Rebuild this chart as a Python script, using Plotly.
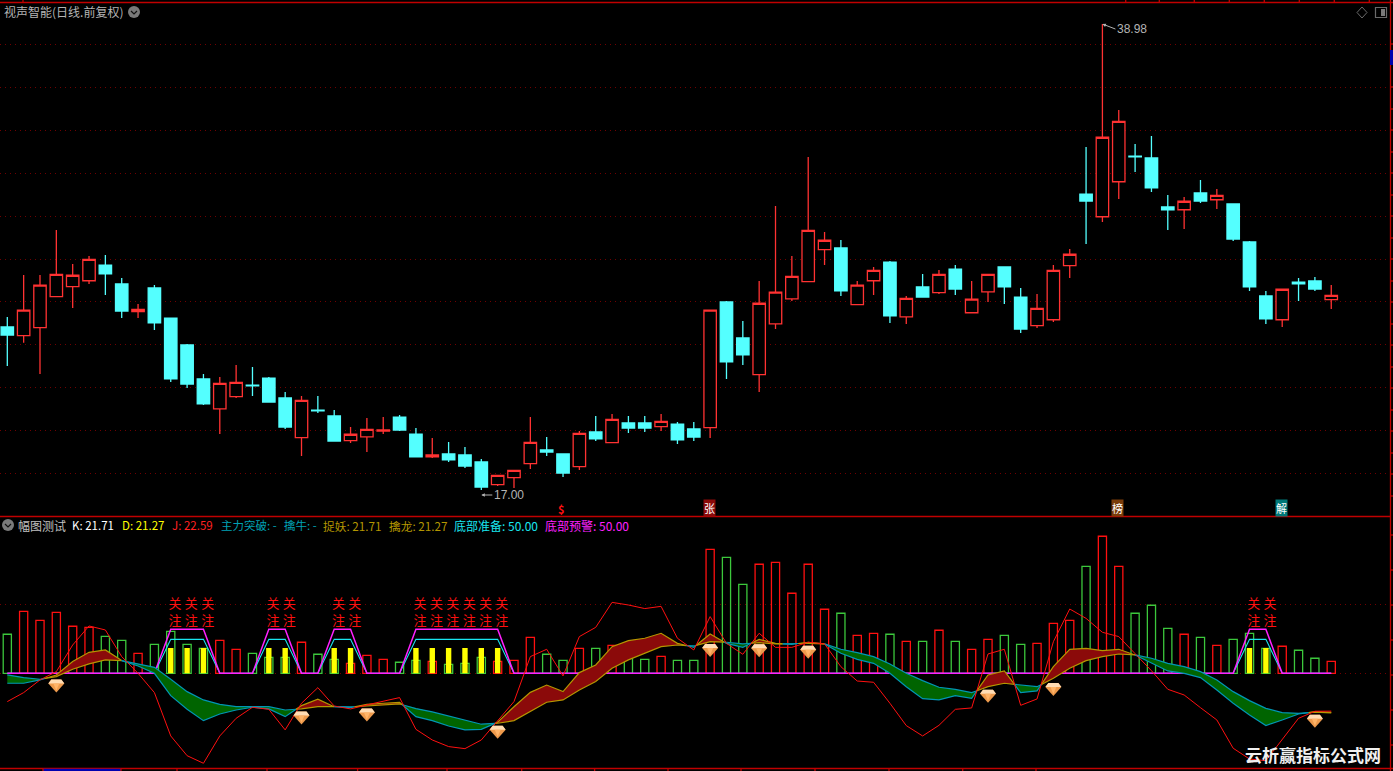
import plotly.graph_objects as go

W, H = 1393, 771

# ---------- price panel ----------
highs = [25.16,27.14,27.14,29.26,27.66,28.04,28.08,27.00,25.77,26.67,
         25.11,23.89,22.47,22.33,22.90,22.80,22.33,21.62,21.43,21.43,
         20.77,19.97,20.40,20.44,20.54,19.92,19.45,19.26,19.03,18.46,
         17.69,17.93,20.44,19.50,18.70,19.78,20.49,20.58,20.49,20.49,
         20.58,20.21,20.21,25.48,25.92,24.97,26.86,30.40,28.04,32.71,
         29.17,28.79,26.86,27.52,27.80,26.15,27.19,27.38,27.61,26.86,
         27.17,27.52,26.53,26.25,27.61,28.37,33.18,38.98,34.92,33.32,
         33.70,30.92,30.82,31.62,31.20,30.49,28.75,26.39,26.47,27.00,
         27.05,26.67]
opens = [24.69,24.28,24.66,26.12,26.59,26.87,27.61,26.72,25.41,26.53,
         25.11,23.84,22.24,20.83,21.40,21.95,22.28,21.34,19.47,20.77,
         20.49,19.33,19.51,19.78,20.44,19.64,18.56,18.70,18.65,18.32,
         17.25,17.58,18.24,18.89,18.70,18.10,19.74,19.23,20.16,20.16,
         19.99,20.11,19.88,19.94,25.87,24.17,22.44,24.84,26.02,26.83,
         28.34,28.42,25.74,26.87,27.75,25.17,26.58,26.31,27.42,25.36,
         26.35,27.52,26.10,24.75,25.03,27.58,30.96,29.89,31.54,32.75,
         32.66,30.35,30.22,31.01,30.69,30.49,28.70,26.15,25.03,26.81,
         26.86,25.98]
closes = [24.31,25.48,26.66,27.17,27.13,27.88,27.20,25.44,25.52,24.88,
          22.24,22.00,21.06,22.03,22.08,21.91,21.15,19.97,21.23,20.73,
          19.31,19.63,19.86,19.83,19.83,18.56,18.65,18.42,18.13,17.14,
          17.69,17.93,19.25,18.79,17.80,19.67,19.41,20.33,19.92,19.92,
          20.24,19.36,19.50,25.48,23.04,23.37,25.81,26.33,27.08,29.25,
          28.78,26.39,26.66,27.36,25.21,26.04,26.10,27.17,26.48,26.00,
          27.17,26.58,24.59,25.57,27.36,28.12,30.63,33.64,34.39,32.71,
          31.25,30.21,30.62,30.63,30.90,28.84,26.58,25.07,26.47,26.72,
          26.48,26.18]
lows = [22.85,23.95,22.47,26.12,25.58,26.72,26.20,25.11,25.11,24.55,
        22.09,21.81,21.01,19.64,21.34,21.43,21.15,19.88,18.60,20.63,
        19.31,19.22,18.79,19.64,19.78,18.56,18.51,18.32,18.04,17.00,
        17.19,17.09,17.99,18.60,17.61,17.94,19.31,19.23,19.69,19.74,
        19.78,19.17,19.31,19.45,22.24,22.90,21.62,24.59,25.92,26.83,
        27.61,26.15,25.74,26.20,24.88,24.83,26.10,26.25,26.20,25.36,
        25.87,25.77,24.41,24.64,24.92,27.00,28.60,29.64,30.73,32.00,
        31.06,29.26,29.31,30.54,30.25,28.75,26.39,24.83,24.69,25.92,
        26.39,25.54]
price_grid = [38.02,36.00,33.97,31.94,29.91,27.88,25.90,23.87,21.84,19.82,17.79]

# ---------- indicator panel ----------
amp = [78.3,94.9,88.4,94.2,84.1,83.3,76.8,73.9,64.5,71.0,
       80.4,71.0,68.1,73.9,67.4,64.5,61.6,61.6,72.5,63.8,
       60.1,57.2,63.0,60.1,58.0,59.4,58.7,56.5,57.2,61.6,
       58.7,59.4,76.1,63.8,59.4,68.1,68.1,70.3,60.9,60.1,
       62.3,59.4,59.4,139.8,134.0,114.5,129.0,130.4,108.0,129.0,
       96.4,93.5,77.5,79.0,78.3,73.2,73.2,81.2,73.2,67.4,
       74.6,77.5,71.0,71.7,86.2,88.4,127.5,149.3,127.5,93.5,
       99.3,82.6,78.3,76.1,70.3,74.6,79.0,68.1,69.6,66.7,
       60.9,58.7]
amp_up = [0,1,1,1,1,1,0,0,1,0,
          0,0,0,1,1,0,0,0,1,0,
          0,1,1,1,0,0,1,0,0,0,
          1,1,1,0,0,1,0,1,0,0,
          1,0,0,1,0,0,1,1,1,1,
          1,0,1,1,0,1,0,1,0,1,
          1,0,0,1,1,1,0,1,1,0,
          0,0,1,0,1,0,0,0,1,0,
          0,1]
k_line = [42.8,42.8,45.2,48.8,58.5,65.2,66.9,59.2,55.3,50.0,
          33.8,23.9,15.7,20.5,23.4,25.4,24.2,18.6,26.6,31.2,
          25.8,25.2,27.5,28.3,29.0,18.6,15.7,11.8,9.0,9.4,
          14.5,25.8,36.2,41.5,36.7,50.5,56.0,69.3,73.7,75.4,
          79.0,71.7,68.8,78.5,71.7,68.8,74.6,71.7,71.0,72.5,
          71.3,64.5,60.1,57.2,50.0,40.3,31.6,30.7,33.8,31.9,
          48.8,51.7,36.0,37.2,54.8,67.4,68.1,66.4,67.4,63.3,
          57.2,51.7,50.0,46.9,37.9,28.3,19.8,12.1,16.2,20.5,
          22.2,21.71]
d_line = [48.8,46.9,45.7,47.6,52.9,56.8,59.7,59.2,56.8,54.3,
          45.7,36.7,30.7,27.5,25.8,25.8,25.8,23.4,24.2,25.8,
          25.8,25.6,26.3,27.1,27.8,24.4,22.0,19.1,16.2,13.1,
          13.8,15.7,22.2,29.0,30.7,37.9,44.0,53.6,59.7,64.5,
          69.3,70.5,69.8,72.9,72.5,71.3,72.2,71.3,71.5,71.7,
          71.3,67.4,65.0,62.1,56.8,50.0,44.7,39.9,38.4,36.0,
          40.3,42.8,41.5,40.3,46.4,53.6,59.2,62.1,64.0,63.3,
          60.9,57.2,54.8,51.2,45.2,36.7,30.2,24.6,21.5,21.0,
          21.9,21.27]
j_line = [29.5,36.0,45.2,51.2,70.5,84.3,81.4,62.1,50.0,36.0,
          4.6,-9.7,-15.2,4.6,17.4,25.4,23.9,9.0,28.3,39.6,
          26.3,24.2,27.1,29.5,32.4,9.4,1.7,-3.1,-4.6,1.7,
          15.7,29.5,62.1,67.4,48.1,76.6,83.3,101.4,99.5,96.9,
          98.5,75.4,66.9,91.1,71.7,63.8,79.0,68.8,68.8,72.5,
          71.3,54.8,44.4,43.5,28.3,12.1,4.6,12.3,23.9,24.9,
          64.0,67.4,26.8,31.4,72.9,96.6,89.8,79.7,76.6,64.5,
          51.9,38.4,34.3,25.1,16.2,-4.3,-12.1,-13.3,1.7,17.4,
          22.5,22.59]
baseline_level = 50
alert_days = [10,11,12,16,17,20,21,25,26,27,28,29,30,76,77]
alert_level = 82      # magenta plateau
ready_level = 74.6    # cyan plateau
signal_bar_level = 68.4
guan_level = 99.6
zhu_level = 87.3
gem_days = [3,18,22,30,43,46,49,60,64,80]
gem_levels = [41.1,17.9,20.1,7.7,66.9,66.7,65.7,33.8,38.6,15.7]
sub_grid = [50,100]

n = len(closes)
days = list(range(n))

# pixel mapping used only for the axis windows and page furniture
def px(v): return v / W
def py(v): return 1 - v / H

STEP = 16.345
X_RANGE = [(0 - 7.3) / STEP, (W - 7.3) / STEP]
LABEL_NUDGE = 4.2 / STEP   # the 关/注 glyphs sit a little right of their bar
RED, CYAN = "#ff3232", "#54ffff"
GRID = "#700000"
BORDER = "#c00000"
FONT = "Noto Sans CJK SC"

fig = go.Figure()

# indicator bars
fig.add_trace(go.Bar(x=days, y=[v - baseline_level for v in amp], base=baseline_level, width=0.5,
                     yaxis="y2", marker=dict(color="rgba(0,0,0,0)",
                     line=dict(color=["#ff1010" if u else "#3cc83c" for u in amp_up], width=1.3))))
fig.add_trace(go.Bar(x=alert_days, y=[signal_bar_level - baseline_level] * len(alert_days),
                     base=baseline_level, width=0.33, yaxis="y2",
                     marker=dict(color="#ffff00", line=dict(width=0))))

# baseline + trapezoids
ready = [ready_level if i in alert_days else baseline_level for i in days]
alert = [alert_level if i in alert_days else baseline_level for i in days]
fig.add_trace(go.Scatter(x=days, y=ready, yaxis="y2", mode="lines", line=dict(color="#19e6f0", width=1.1)))
fig.add_trace(go.Scatter(x=days, y=alert, yaxis="y2", mode="lines", line=dict(color="#ff20ff", width=1.5)))

# ribbon between K and D, split at each crossing (and wherever the two touch)
def ribbon_runs(k, d):
    runs, cur = [], []
    for i in range(len(k)):
        if i > 0:
            a, b = k[i - 1] - d[i - 1], k[i] - d[i]
            if a * b < 0:
                t = a / (a - b)
                pt = (i - 1 + t, k[i - 1] + t * (k[i] - k[i - 1]), d[i - 1] + t * (d[i] - d[i - 1]))
                cur.append(pt)
                runs.append(cur)
                cur = [pt]
        cur.append((i, k[i], d[i]))
        if k[i] == d[i] and len(cur) > 1:
            runs.append(cur)
            cur = [(i, k[i], d[i])]
    runs.append(cur)
    return runs

for run in ribbon_runs(k_line, d_line):
    if len(run) < 2:
        continue
    xs = [p[0] for p in run]
    ks = [p[1] for p in run]
    ds = [p[2] for p in run]
    up = sum(ks) >= sum(ds)
    fill = "#8b0a0a" if up else "#006400"
    edge = "#b49600" if up else "#0096b4"
    fig.add_trace(go.Scatter(x=xs + xs[::-1], y=ks + ds[::-1], yaxis="y2", mode="lines", fill="toself",
                             fillcolor=fill, line=dict(width=0)))
    fig.add_trace(go.Scatter(x=xs, y=ks, yaxis="y2", mode="lines", line=dict(color=edge, width=1.2)))
    fig.add_trace(go.Scatter(x=xs, y=ds, yaxis="y2", mode="lines", line=dict(color=edge, width=1.2)))

# J line
fig.add_trace(go.Scatter(x=days, y=j_line, yaxis="y2", mode="lines", line=dict(color="#ff1010", width=1)))

# 关 / 注 labels
label_x = [d + LABEL_NUDGE for d in alert_days]
fig.add_trace(go.Scatter(x=label_x, y=[guan_level] * len(alert_days), yaxis="y2", mode="text",
                         text=["关"] * len(alert_days), textfont=dict(color="#ff1010", size=13, family=FONT)))
fig.add_trace(go.Scatter(x=label_x, y=[zhu_level] * len(alert_days), yaxis="y2", mode="text",
                         text=["注"] * len(alert_days), textfont=dict(color="#ff1010", size=13, family=FONT)))

# candles
fig.add_trace(go.Candlestick(x=days, open=opens, high=highs, low=lows, close=closes, yaxis="y",
                             increasing=dict(line=dict(color=RED, width=1.3), fillcolor="#000000"),
                             decreasing=dict(line=dict(color=CYAN, width=1.3), fillcolor=CYAN),
                             whiskerwidth=0))

shapes = []
def frame(x0, y0, x1, y1, color=BORDER, width=1.3):
    shapes.append(dict(type="line", xref="paper", yref="paper", x0=px(x0), x1=px(x1), y0=py(y0), y1=py(y1),
                       line=dict(color=color, width=width)))

frame(0, 2.5, W, 2.5)
frame(0, 516.5, 1390, 516.5)
frame(0, 768.5, W, 768.5)
frame(1390.5, 0, 1390.5, H)
frame(43, 770, 121, 770, color="#0000b0", width=2.5)
frame(1392, 50, 1392, 65, color="#0000b0", width=4)
for tx in [23, 1125.7, 1159.3, 1194.3, 1229.3, 1264.3, 1299.3, 1334.3, 1369.3]:
    frame(tx, 0, tx, 2.5)
for tx in [43, 121, 177, 267, 357.6, 447, 521.7, 594.6, 668, 741, 815, 889, 962.7, 1036]:
    frame(tx, 768.5, tx, H)
for ty in [44, 87, 109, 130, 152, 173, 195, 216, 238, 259, 281, 302, 324, 345, 367, 388, 410, 431, 453, 474, 496,
           535, 570, 605, 640, 675, 710, 745]:
    frame(1390.5, ty, W, ty)

# gems
for dd, lv in zip(gem_days, gem_levels):
    for path, col in [("M -8,2 L -5,6 L 5,6 L 8,2 L 0,-7 Z", "#ee9a4c"),
                      ("M -5,6 L 5,6 L 8,2 L -8,2 Z", "#ffdcb4"),
                      ("M -3,2 L 3,2 L 0,-5 Z", "#ffb468")]:
        shapes.append(dict(type="path", xref="x", yref="y2", xsizemode="pixel", ysizemode="pixel",
                           xanchor=dd, yanchor=lv, path=path, fillcolor=col, line=dict(width=0)))

# header icons
def badge(cx, cy, r=6):
    shapes.append(dict(type="circle", xref="paper", yref="paper", x0=px(cx - r), x1=px(cx + r),
                       y0=py(cy + r), y1=py(cy - r), fillcolor="#7a7a7a", line=dict(width=0)))
    shapes.append(dict(type="path", xref="paper", yref="paper",
                       path=f"M {px(cx-3)},{py(cy-1)} L {px(cx)},{py(cy+2)} L {px(cx+3)},{py(cy-1)}",
                       line=dict(color="#111111", width=1.2)))
badge(134, 12)
badge(8, 525)
shapes.append(dict(type="path", xref="paper", yref="paper",
                   path=f"M {px(1362)},{py(7)} L {px(1367)},{py(12.5)} L {px(1362)},{py(18)} L {px(1357)},{py(12.5)} Z",
                   line=dict(color="#6a6a6a", width=1)))
shapes.append(dict(type="rect", xref="paper", yref="paper", x0=px(1375.5), x1=px(1386.5), y0=py(17.5), y1=py(7.5),
                   line=dict(color="#6a6a6a", width=1.2)))
shapes.append(dict(type="rect", xref="paper", yref="paper", x0=px(1381), x1=px(1385), y0=py(16), y1=py(9),
                   fillcolor="#7a7a7a", line=dict(width=0)))

ann = []
def label(x, y, text, color, size=12, bg=None, anchor="left", bold=False):
    ann.append(dict(xref="paper", yref="paper", x=px(x), y=py(y), text=f"<b>{text}</b>" if bold else text,
                    showarrow=False, xanchor=anchor, yanchor="middle",
                    font=dict(color=color, size=size, family=FONT), bgcolor=bg, borderpad=0))

label(3, 12, "视声智能(日线.前复权)", "#b4b4b4", 12)
label(17, 525, "幅图测试", "#c0c0c0", 12)
label(71, 525, "K: 21.71", "#ffffff", 11.5)
label(121, 525, "D: 21.27", "#ffff00", 11.5)
label(171, 525, "J: 22.59", "#ff2020", 11.5)
label(220, 525, "主力突破: -", "#00a0b4", 11.5)
label(283, 525, "擒牛: -", "#00a0b4", 11.5)
label(322, 525, "捉妖: 21.71", "#b49600", 11.7)
label(388, 525, "擒龙: 21.27", "#b49600", 11.7)
label(453, 525, "底部准备: 50.00", "#19e6f0", 12)
label(544, 525, "底部预警: 50.00", "#ff20ff", 12)
label(561, 509, "$", "#ff1010", 11, anchor="center", bold=True)
label(709, 508, "张", "#ffffff", 11, bg="#8b0a0a", anchor="center")
label(1117, 508, "榜", "#ffffff", 11, bg="#7a3c0a", anchor="center")
label(1281, 508, "解", "#ffffff", 11, bg="#007878", anchor="center")
label(1382, 754, "云析赢指标公式网", "#f0f0f0", 17, anchor="right", bold=True)

# extreme price call-outs
ann.append(dict(x=67, y=38.98, xref="x", yref="y", text="38.98", ax=13, ay=5, axref="pixel", ayref="pixel",
                xanchor="left", yanchor="middle", showarrow=True, arrowcolor="#b4b4b4", arrowhead=2,
                arrowwidth=1, arrowsize=0.7, startstandoff=0, font=dict(color="#b4b4b4", size=12, family="Liberation Sans")))
ann.append(dict(x=29, y=17.00, xref="x", yref="y", text="17.00", ax=11, ay=0, axref="pixel", ayref="pixel",
                xanchor="left", yanchor="middle", xshift=0, yshift=-5, showarrow=True, arrowcolor="#b4b4b4", arrowhead=2,
                arrowwidth=1, arrowsize=0.7, font=dict(color="#b4b4b4", size=12, family="Liberation Sans")))

fig.update_layout(
    width=W, height=H, margin=dict(l=0, r=0, t=0, b=0, pad=0),
    paper_bgcolor="#000000", plot_bgcolor="#000000", showlegend=False, hovermode=False,
    barmode="overlay", boxgap=0.24, boxgroupgap=0,
    xaxis=dict(domain=[0, 1], range=X_RANGE, visible=False, anchor="y2", rangeslider=dict(visible=False)),
    yaxis=dict(domain=[py(516.5), py(2.5)], range=[17 + (490 - 516.5) * 0.04717, 17 + (490 - 2.5) * 0.04717],
               tickvals=price_grid, showticklabels=False, ticks="", zeroline=False, showline=False,
               showgrid=True, gridcolor=GRID, griddash="1px,4px", gridwidth=1),
    yaxis2=dict(domain=[py(768.5), py(516.5)], range=[50 - 95.2 * 0.7246, 50 + 156.8 * 0.7246],
                tickvals=sub_grid, showticklabels=False, ticks="", zeroline=False, showline=False,
                showgrid=True, gridcolor=GRID, griddash="1px,4px", gridwidth=1),
    shapes=shapes, annotations=ann,
)
fig.write_html("out.html", config=dict(displayModeBar=False),
               post_script="document.body.style.margin='0';document.body.style.overflow='hidden';")
